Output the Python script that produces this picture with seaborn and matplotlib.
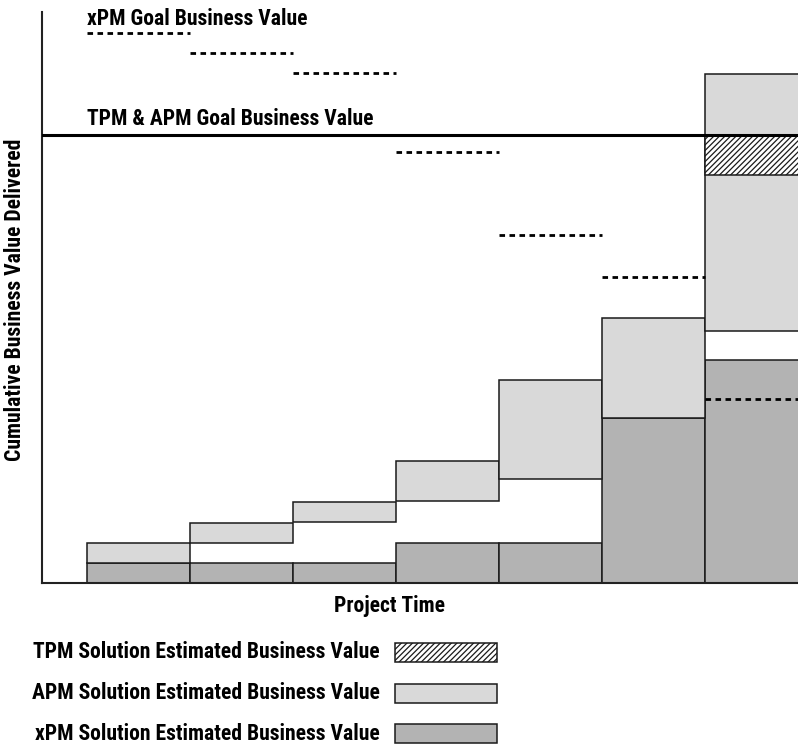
import os
import numpy as np
import pandas as pd
import matplotlib
matplotlib.use("Agg")
import matplotlib.pyplot as plt
from matplotlib.patches import Rectangle
from matplotlib import font_manager as fm
import seaborn as sns

# ---- data (cumulative business value, arbitrary units) ----
periods = ["P1", "P2", "P3", "P4", "P5", "P6", "P7"]
xpm_value = [1.0, 1.0, 1.0, 2.0, 2.0, 8.25, 11.15]          # xPM solution (from zero)
apm_low = [1.0, 2.0, 3.05, 4.1, 5.2, 8.25, 12.6]            # APM solution range, lower
apm_high = [2.0, 3.0, 4.05, 6.1, 10.15, 13.25, 25.45]       # APM solution range, upper
tpm_period = 6                                               # TPM estimate lives in last period
tpm_low, tpm_high = 20.4, 22.4
xpm_goal = [27.5, 26.5, 25.5, 21.55, 17.4, 15.3, 9.2]        # xPM goal per period
tpm_apm_goal = 22.4

legend_labels = ["TPM Solution Estimated Business Value",
                 "APM Solution Estimated Business Value",
                 "xPM Solution Estimated Business Value"]

LIGHT = "#d9d9d9"
DARK = "#b3b3b3"
EDGE = "#1a1a1a"

sns.set_theme(style="white")
plt.rcParams["font.family"] = ["Liberation Sans", "DejaVu Sans"]
plt.rcParams["hatch.linewidth"] = 0.9
plt.rcParams["hatch.color"] = "black"


def pick_condensed_bold():
    """Return a FontProperties for a bold narrow/condensed sans face if one exists."""
    prefs = ["liberationsansnarrow", "robotocondensed", "dejavusanscondensed",
             "notosans-condensed", "notosanscondensed", "opensans-condensed",
             "opensanscondensed", "lato", "inter"]
    found = []
    for f in fm.fontManager.ttflist:
        base = os.path.basename(f.fname).lower()
        if not any(k in base for k in ("narrow", "condensed", "cond")):
            continue
        if "bold" not in base:
            continue
        if any(k in base for k in ("semibold", "extrabold", "italic", "oblique",
                                   "semicondensed", "extracondensed", "mono", "serif")):
            continue
        key = base.replace("_", "").replace(" ", "")
        rank = next((i for i, p in enumerate(prefs) if p in key), len(prefs))
        found.append((rank, f.fname))
    if found:
        found.sort()
        return fm.FontProperties(fname=found[0][1])
    return fm.FontProperties(family=["Liberation Sans", "DejaVu Sans"], weight="bold")


FP = pick_condensed_bold()

W, H = 798, 745
fig = plt.figure(figsize=(W / 100, H / 100), dpi=100)


def fx(px):
    return px / W


def fy(py):
    return 1 - py / H


# scale the type so the longest legend label spans its width (about 347 px)
probe = fig.text(0, 0, legend_labels[0], fontproperties=FP, fontsize=12)
fig.canvas.draw()
probe_w = probe.get_window_extent().width
probe.remove()
FS = min(16.0, 12 * 347.0 / probe_w)

ax = fig.add_axes([fx(42), fy(583), fx(798) - fx(42), fy(12) - fy(583)])

df = pd.DataFrame({"period": periods, "xpm": xpm_value})
sns.barplot(data=df, x="period", y="xpm", color=DARK, saturation=1, width=1.0,
            edgecolor=EDGE, linewidth=1.1, ax=ax, zorder=2)

pos = np.arange(len(periods))
lo = np.array(apm_low)
hi = np.array(apm_high)
ax.bar(pos, hi - lo, bottom=lo, width=1.0, color=LIGHT, edgecolor=EDGE,
       linewidth=1.1, zorder=2)
ax.bar([pos[tpm_period]], [tpm_high - tpm_low], bottom=[tpm_low], width=1.0,
       facecolor="white", edgecolor=EDGE, hatch="//////", linewidth=1.1, zorder=3)

# goal lines
ax.hlines(xpm_goal, pos - 0.5, pos + 0.5, colors="black", linewidth=2.0,
          linestyles=(0, (2.0, 1.6)), zorder=4)
ax.axhline(tpm_apm_goal, color="black", linewidth=2.2, zorder=4)

ax.set_xlim(-0.5 - 45 / 103, -0.5 + (798 - 87) / 103)
ax.set_ylim(0, 28.55)
ax.set_xticks([])
ax.set_yticks([])
ax.set_xlabel("")
ax.set_ylabel("")
sns.despine(ax=ax)
for s in ("left", "bottom"):
    ax.spines[s].set_color("#222222")
    ax.spines[s].set_linewidth(1.5)

txt = dict(fontproperties=FP, fontsize=FS, color="black")
fig.text(fx(87), fy(25), "xPM Goal Business Value", ha="left", va="baseline", **txt)
fig.text(fx(87), fy(125), "TPM & APM Goal Business Value", ha="left", va="baseline", **txt)
fig.text(fx(15), fy(300), "Cumulative Business Value Delivered", rotation=90,
         ha="center", va="center", **txt)
fig.text(fx(390), fy(612), "Project Time", ha="center", va="baseline", **txt)

# legend built by hand: label on the left, swatch on the right
legend_rows = [(658, 643, dict(facecolor="white", hatch="//////")),
               (699, 684, dict(facecolor=LIGHT)),
               (740, 724, dict(facecolor=DARK))]
for label, (base, top, style) in zip(legend_labels, legend_rows):
    fig.text(fx(380), fy(base), label, ha="right", va="baseline", **txt)
    fig.add_artist(Rectangle((fx(395), fy(top + 19)), fx(497) - fx(395), fy(top) - fy(top + 19),
                             transform=fig.transFigure, edgecolor=EDGE, linewidth=1.1,
                             **style))

fig.savefig("out.png", dpi=100)
